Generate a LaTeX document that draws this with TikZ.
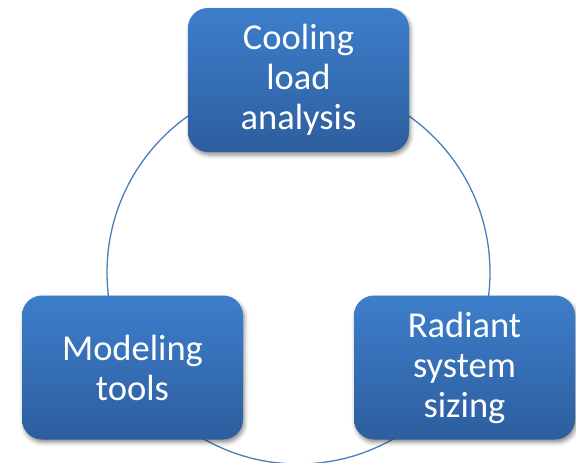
\documentclass[tikz,border=0pt]{standalone}
\usepackage{fontspec}
\setmainfont{Carlito}
\usetikzlibrary{shadows.blur}
\definecolor{boxtop}{RGB}{61,126,203}
\definecolor{boxbottom}{RGB}{45,94,158}
\definecolor{ringblue}{RGB}{74,126,187}
\tikzset{
  stage/.style={
    rounded corners=20pt,
    minimum width=221pt, minimum height=144pt,
    top color=boxtop, bottom color=boxbottom,
    text=white, align=center, inner sep=0pt,
    font=\fontsize{36.5}{40}\selectfont,
    blur shadow={shadow xshift=1.5pt, shadow yshift=-3pt,
      shadow blur radius=4pt, shadow opacity=45}
  },
  ring/.style={draw=ringblue, line width=1.3pt}
}
\begin{document}
\begin{tikzpicture}[x=1pt,y=-1pt]
  \useasboundingbox (0,0) rectangle (576,463);
  \clip (0,0) rectangle (576,463);
  % cycle ring behind the three stages
  \coordinate (hub) at (298.5,272.5);
  \draw[ring] (hub) circle[radius=191.5pt];
  % the three stages
  \node[stage] (load) at (298.5,80) {Cooling\\load\\analysis};
  \node[stage] (tools) at (132.5,367.5) {Modeling\\tools};
  \node[stage] (sizing) at (464.5,367.5) {Radiant\\system\\sizing};
\end{tikzpicture}
\end{document}
